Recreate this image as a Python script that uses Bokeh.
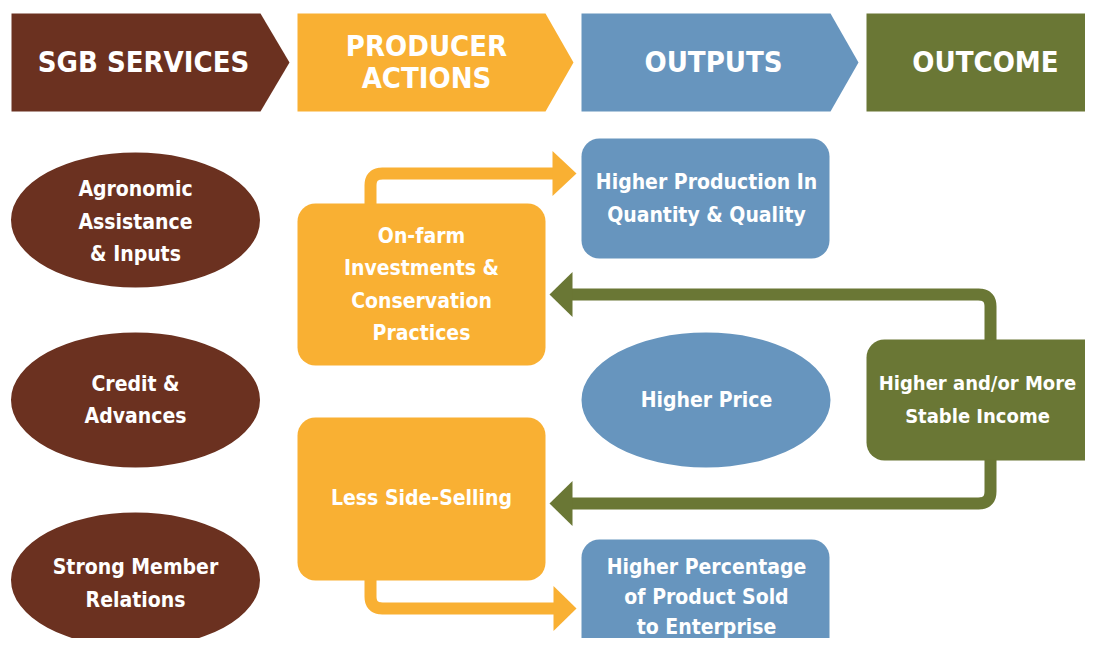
import numpy as np
from bokeh.plotting import figure
from bokeh.models import Range1d, ColumnDataSource
from bokeh.core.properties import value
from bokeh.embed import file_html
from bokeh.resources import INLINE

# ---------------- content ----------------
header_labels = [["SGB SERVICES"], ["PRODUCER", "ACTIONS"], ["OUTPUTS"], ["OUTCOME"]]
service_labels = [["Agronomic", "Assistance", "& Inputs"], ["Credit &", "Advances"],
                  ["Strong Member", "Relations"]]
action_labels = [["On-farm", "Investments &", "Conservation", "Practices"], ["Less Side-Selling"]]
output_box_labels = [["Higher Production In", "Quantity & Quality"],
                     ["Higher Percentage", "of Product Sold", "to Enterprise"]]
output_ellipse_labels = [["Higher Price"]]
outcome_labels = [["Higher and/or More", "Stable Income"]]

# ---------------- styles ----------------
BROWN = "#6b3120"
ORANGE = "#f9b033"
BLUE = "#6795be"
GREEN = "#6a7735"
FONT = value("'DejaVu Sans Condensed', Roboto, sans-serif")

# ---------------- layout (pixel space) ----------------
header_top, header_bot, header_mid = 13, 111, 62
header_cols = [(11, 260, 289), (297, 545, 573), (581, 830, 858), (866, 1110, None)]
header_text_x = [143, 426, 713, 985]
header_colors = [BROWN, ORANGE, BLUE, GREEN]

p = figure(width=1085, height=638, x_range=Range1d(0, 1085), y_range=Range1d(638, 0),
           output_backend="svg", toolbar_location=None, min_border=0)
p.axis.visible = False
p.grid.visible = False
p.outline_line_color = None
p.background_fill_color = "white"
p.border_fill_color = "white"

texts = {"x": [], "y": [], "t": [], "s": []}


def add_text(lines, cx, cy, size, spacing):
    n = len(lines)
    for i, ln in enumerate(lines):
        texts["x"].append(cx)
        texts["y"].append(cy + (i - (n - 1) / 2) * spacing)
        texts["t"].append(ln)
        texts["s"].append(size)


# header chevrons
xs, ys = [], []
for (l, r, tip) in header_cols:
    if tip is None:
        xs.append([l, r, r, l])
        ys.append([header_top, header_top, header_bot, header_bot])
    else:
        xs.append([l, r, tip, r, l])
        ys.append([header_top, header_top, header_mid, header_bot, header_bot])
p.patches(xs, ys, fill_color=header_colors, line_color=None)
for lab, cx in zip(header_labels, header_text_x):
    add_text(lab, cx, 61, "29px", 32)

# services ellipses
svc_y = [219.5, 399.5, 579.5]
svc_text_y = [221, 399.5, 583]
p.ellipse(x=[135] * 3, y=svc_y, width=249, height=135, fill_color=BROWN, line_color=None)
for lab, ty in zip(service_labels, svc_text_y):
    add_text(lab, 135, ty, "21px", 32.5)

# rounded boxes
boxes = dict(left=[297, 297, 581, 581, 866], right=[545, 545, 829, 829, 1120],
             top=[203, 417, 138, 539, 339], bottom=[365, 580, 258, 680, 460],
             color=[ORANGE, ORANGE, BLUE, BLUE, GREEN])
p.quad(left="left", right="right", top="top", bottom="bottom", fill_color="color",
       line_color=None, border_radius=18, source=ColumnDataSource(boxes))

add_text(action_labels[0], 421, 284, "21px", 32.5)
add_text(action_labels[1], 421, 497, "21px", 32.5)
add_text(output_box_labels[0], 706, 198, "21px", 32.5)
add_text(output_box_labels[1], 706, 596, "21px", 30)
add_text(outcome_labels[0], 977, 399, "20px", 32.5)

# blue ellipse
p.ellipse(x=[705.5], y=[399.5], width=249, height=135, fill_color=BLUE, line_color=None)
add_text(output_ellipse_labels[0], 706, 399, "21px", 32.5)


# arrows
def rounded_path(pts, r, n=10):
    px, py = [pts[0][0]], [pts[0][1]]
    for i in range(1, len(pts) - 1):
        p0, p1, p2 = (np.array(pts[i - 1], float), np.array(pts[i], float),
                      np.array(pts[i + 1], float))
        d1 = (p0 - p1) / np.linalg.norm(p0 - p1)
        d2 = (p2 - p1) / np.linalg.norm(p2 - p1)
        a, b = p1 + d1 * r, p1 + d2 * r
        t = np.linspace(0, 1, n)[:, None]
        q = (1 - t) ** 2 * a + 2 * (1 - t) * t * p1 + t ** 2 * b
        px += list(q[:, 0]); py += list(q[:, 1])
    px.append(pts[-1][0]); py.append(pts[-1][1])
    return px, py


arrows = [
    # (path, head_base_x, tip_x, y, color)
    ([(370, 204), (370, 173), (553, 173)], 552, 576, 173, ORANGE),
    ([(370, 579), (370, 608), (554, 608)], 553, 576, 608, ORANGE),
    ([(990, 340), (990, 294), (571, 294)], 572, 549, 294, GREEN),
    ([(990, 459), (990, 503), (571, 503)], 572, 549, 503, GREEN),
]
for path, hb, tip, hy, col in arrows:
    lx, ly = rounded_path(path, 12)
    p.line(lx, ly, line_width=12, line_color=col, line_cap="butt", line_join="round")
    p.patch([hb, tip, hb], [hy - 22.5, hy, hy + 22.5], fill_color=col, line_color=None)

p.text(x="x", y="y", text="t", source=ColumnDataSource(texts), text_font=FONT,
       text_font_size="s", text_font_style="bold", text_color="white",
       text_align="center", text_baseline="middle")

open("out.html", "w").write(file_html(p, INLINE))
